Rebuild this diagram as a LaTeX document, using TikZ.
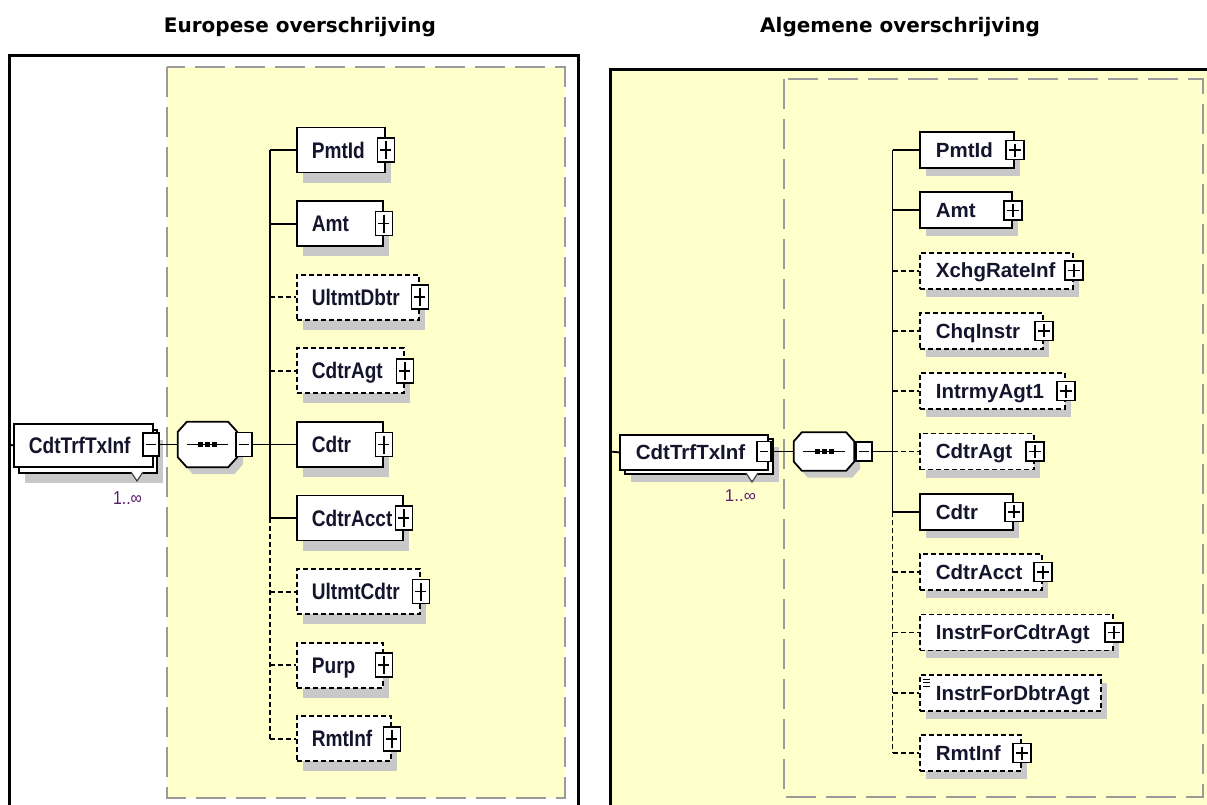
\documentclass[tikz,border=0pt]{standalone}
\usepackage{fontspec}
\usepackage{graphicx}
\usetikzlibrary{shadows}
\newfontfamily\elfont{Liberation Sans}
\newfontfamily\hdfont{DejaVu Sans}
\newcommand\rfnt{\elfont\bfseries\fontsize{20.5pt}{24pt}\selectfont}
\newcommand\ofnt{\elfont\fontsize{17pt}{20pt}\selectfont}
\newcommand\hfnt{\hdfont\bfseries\fontsize{20pt}{24pt}\selectfont}
\newcommand\lsq[1]{\scalebox{0.93}[1.1]{#1}}
\definecolor{yel}{RGB}{255,255,204}
\definecolor{dgray}{RGB}{155,155,155}
\definecolor{shc}{RGB}{200,200,200}
\definecolor{txt}{RGB}{20,20,45}
\definecolor{occ}{RGB}{90,30,110}
\newcommand\octpath[3]{([xshift=#2pt]#1.north west) -- ([xshift=-#2pt]#1.north east) -- ([yshift=-#3pt]#1.north east) -- ([yshift=#3pt]#1.south east) -- ([xshift=-#2pt]#1.south east) -- ([xshift=#2pt]#1.south west) -- ([yshift=#3pt]#1.south west) -- ([yshift=-#3pt]#1.north west) -- cycle}
\tikzset{
 frame/.style={line width=3pt, draw=black},
 region/.style={draw=dgray, line width=2pt, dash pattern=on 30pt off 10pt},
 el/.style={draw=black, line width=1.8pt, fill=white, inner xsep=0pt, inner ysep=0pt, align=left, anchor=west, text=txt, font=\rfnt},
 lel/.style={el, minimum height=45pt, text height=20.2pt, text depth=4pt},
 rel/.style={el, minimum height=36pt, text height=18.7pt, text depth=4pt},
 lshd/.style={drop shadow={shadow xshift=6pt, shadow yshift=-10pt, opacity=1, fill=shc}},
 rshd/.style={drop shadow={shadow xshift=6pt, shadow yshift=-8pt, opacity=1, fill=shc}},
 opt/.style={dash pattern=on 5pt off 3pt},
 pbox/.style={draw=black, line width=1.5pt, fill=white, inner sep=0pt},
 lpb/.style={pbox, minimum width=17pt, minimum height=24pt},
 rpb/.style={pbox, minimum width=18pt, minimum height=19pt},
 plus/.style={path picture={\draw[line width=1.5pt] ([xshift=3pt]path picture bounding box.west) -- ([xshift=-3pt]path picture bounding box.east) ([yshift=-3pt]path picture bounding box.north) -- ([yshift=3pt]path picture bounding box.south);}},
 minus/.style={path picture={\draw[line width=1.5pt] ([xshift=3pt]path picture bounding box.west) -- ([xshift=-3pt]path picture bounding box.east);}},
 conn/.style={line width=1.8pt, draw=black},
 oct/.style={draw=black, line width=1.8pt, fill=white},
 dot/.style={fill=black, inner sep=0pt, minimum size=5pt},
 tri/.style={draw=black!75, line width=1.2pt, fill=white},
 occl/.style={text=occ, font=\ofnt, inner sep=0pt},
 hdr/.style={font=\hfnt, inner sep=0pt},
}
% name, y, width, style, text
\newcommand\lelem[5]{%
 \node[lel,lshd,#4,text width=#3pt] (#1) at (296,#2) {\hspace*{15pt}\lsq{#5}};
 \node[lpb,plus] (#1p) at (#1.east) {};
 \draw[conn,#4] (#1.west -| LT) -- (#1.west);}
\newcommand\relem[5]{%
 \node[rel,rshd,#4,text width=#3pt] (#1) at (919,#2) {\hspace*{16pt}#5};
 \draw[conn,#4] (#1.west -| RT) -- (#1.west);}
\begin{document}
\begin{tikzpicture}[x=1pt,y=-1pt]
\useasboundingbox (0,0) rectangle (1207,804);
% panels
\draw[frame] (9.5,820) -- (9.5,55.5) -- (578,55.5) -- (578,820);
\fill[yel] (610.5,69.5) rectangle (1220,820);
\draw[frame] (610.5,820) -- (610.5,69.5) -- (1220,69.5);
\draw[region, fill=yel] (167,67) rectangle (565,798);
\draw[region] (784,79) rectangle (1203,797);
% headers
\node[hdr] (H1) at (300,27) {Europese overschrijving};
\node[hdr] (H2) at (900,27) {Algemene overschrijving};

% ===== left =====
\coordinate (LT) at (270,150);
\coordinate (LF) at (9.5,444.5);
\node[lel,lshd,minimum height=43pt,text width=138pt,anchor=north west] (LRb) at (18,429) {};
\node[lel,minimum height=43pt,text width=139pt,anchor=north west] (LR) at (13,423) {\hspace*{15pt}\lsq{CdtTrfTxInf}};
\draw[tri] (131,472) -- (137,481) -- (143,472);
\node[occl] (LRo) at (127.5,498.5) {\lsq{1..∞}};
\node[lpb,minus,minimum width=16pt,minimum height=23pt] (LRm) at (151,444.5) {};
\node[minimum width=59pt,minimum height=45pt,inner sep=0pt] (LS) at (207.5,444.5) {};
\draw[oct,drop shadow={shadow xshift=6pt, shadow yshift=-7pt, opacity=1, fill=shc}] \octpath{LS}{9}{10};
\draw[conn] ([xshift=-20.5pt]LS.center) -- ([xshift=20.5pt]LS.center);
\node[dot] (LSd1) at ([xshift=-7pt]LS.center) {};
\node[dot] (LSd2) at (LS.center) {};
\node[dot] (LSd3) at ([xshift=7pt]LS.center) {};
\node[lpb,minus,minimum width=16pt,minimum height=24pt] (LSm) at (244,444.5) {};
\draw[conn] (LF) -- (LR.west);
\draw[conn] (LRm.east) -- (LS.west);
\draw[conn] (LSm.east) -- (LSm.east -| LT);
\lelem{L1}{150}{88}{}{PmtId}
\lelem{L2}{223.6}{86}{}{Amt}
\lelem{L3}{297.2}{122}{opt}{UltmtDbtr}
\lelem{L4}{370.8}{107}{opt}{CdtrAgt}
\lelem{L5}{444.5}{86}{}{Cdtr}
\lelem{L6}{518}{106}{}{CdtrAcct}
\lelem{L7}{591.6}{123}{opt}{UltmtCdtr}
\lelem{L8}{665.2}{86}{opt}{Purp}
\lelem{L9}{738.8}{94}{opt}{RmtInf}
\draw[conn] (L1.west -| LT) -- (L6.west -| LT);
\draw[conn,opt] (L6.west -| LT) -- (L9.west -| LT);

% ===== right =====
\coordinate (RT) at (892.5,150);
\coordinate (RF) at (610.5,451.5);
\node[rel,rshd,minimum height=35pt,text width=148pt,anchor=north west] (RRb) at (624,438) {};
\node[rel,minimum height=35pt,text width=148pt,anchor=north west] (RR) at (619,434) {\hspace*{16pt}CdtTrfTxInf};
\draw[tri] (746,473) -- (752,482) -- (758,473);
\node[occl] (RRo) at (740.5,496) {1..∞};
\node[rpb,minus,minimum width=14pt,minimum height=20pt] (RRm) at (764,451.5) {};
\node[minimum width=60pt,minimum height=38pt,inner sep=0pt] (RS) at (824,451.5) {};
\draw[oct,drop shadow={shadow xshift=6pt, shadow yshift=-7pt, opacity=1, fill=shc}] \octpath{RS}{8}{9};
\draw[conn] ([xshift=-21pt]RS.center) -- ([xshift=21pt]RS.center);
\node[dot] (RSd1) at ([xshift=-7pt]RS.center) {};
\node[dot] (RSd2) at (RS.center) {};
\node[dot] (RSd3) at ([xshift=7pt]RS.center) {};
\node[rpb,minus,minimum width=16pt,minimum height=19pt] (RSm) at (864,451.5) {};
\draw[conn] (RF) -- (RR.west);
\draw[conn] (RRm.east) -- (RS.west);
\draw[conn] (RSm.east) -- (RSm.east -| RT);
\relem{R1}{150}{94}{}{PmtId}
\relem{R2}{210.3}{92}{}{Amt}
\relem{R3}{270.6}{153}{opt}{XchgRateInf}
\relem{R4}{330.9}{123}{opt}{ChqInstr}
\relem{R5}{391.2}{145}{opt}{IntrmyAgt1}
\relem{R6}{451.5}{114}{opt}{CdtrAgt}
\relem{R7}{511.8}{93}{}{Cdtr}
\relem{R8}{572.1}{122}{opt}{CdtrAcct}
\relem{R9}{632.4}{193}{opt}{InstrForCdtrAgt}
\relem{R10}{692.7}{181}{opt}{InstrForDbtrAgt}
\relem{R11}{753}{101}{opt}{RmtInf}
\foreach \n in {R1,R2,R3,R4,R5,R6,R7,R8,R9,R11}{\node[rpb,plus] (\n p) at (\n.east) {};}
\draw[line width=0.9pt] (923,679) -- (930,679) (923,682.5) -- (930,682.5) (923,686) -- (930,686);
\draw[conn] (R1.west -| RT) -- (R7.west -| RT);
\draw[conn,opt] (R7.west -| RT) -- (R11.west -| RT);
\end{tikzpicture}
\end{document}
